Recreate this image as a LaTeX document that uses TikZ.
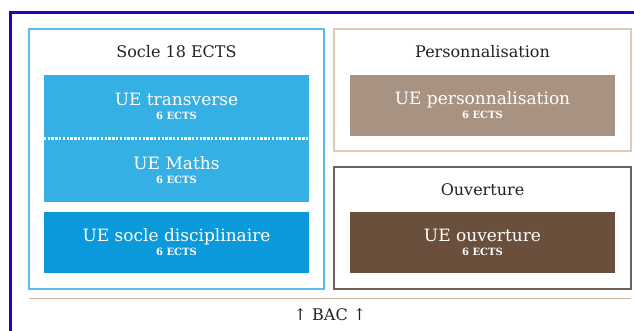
\documentclass[tikz,border=0pt]{standalone}
\usepackage{fontspec}
\setmainfont{DejaVu Serif}
\usetikzlibrary{positioning}

\definecolor{cadre}{HTML}{2400CC}
\definecolor{bleuclair}{HTML}{35B0E5}
\definecolor{bleufonce}{HTML}{0A9ADB}
\definecolor{bordsocle}{HTML}{5BBDEB}
\definecolor{bordperso}{HTML}{DCCBB9}
\definecolor{blocperso}{HTML}{A89383}
\definecolor{bordouv}{HTML}{6E6259}
\definecolor{blocouv}{HTML}{6A4F3C}
\definecolor{regle}{HTML}{C9B3A3}
\definecolor{texte}{HTML}{222222}

\newcommand{\ects}{{\bfseries\fontsize{10}{11}\selectfont 6 ECTS}}

\begin{document}
\begin{tikzpicture}[x=1pt,y=1pt,
    frame/.style={draw,line width=1.2pt,minimum width=#1,inner sep=0pt},
    ue node/.style={rectangle,text=white,align=center,minimum width=265pt,inner sep=0pt,font=\fontsize{17}{19}\selectfont},
    titre/.style={text=texte,font=\fontsize{16}{18}\selectfont}]
  \useasboundingbox (0,0) rectangle (634,331);
  \fill[white] (0,0) rectangle (634,331);
  \draw[cadre,line width=3pt] (10.5,-2) -- (10.5,318.5) -- (636,318.5);

  % cadres
  \node[frame=295pt,bordsocle,minimum height=260pt] (socle) at (176.5,172) {};
  \node[frame=297pt,bordperso,minimum height=122pt] (perso) at (482.5,241) {};
  \node[frame=297pt,bordouv,minimum height=122pt] (ouv) at (482.5,103) {};

  % titres
  \node[titre] (t1) at (176.5,279) {Socle 18 ECTS};
  \node[titre] (t2) at (482.5,279) {Personnalisation};
  \node[titre] (t3) at (482.5,141) {Ouverture};

  % UE
  \node[ue node,fill=bleuclair,minimum height=63pt] (transv) at (176.5,224.5)
    {UE transverse\\[-5pt]\ects};
  \node[ue node,fill=bleuclair,minimum height=64pt,below=0pt of transv] (maths)
    {UE Maths\\[-5pt]\ects};
  \node[ue node,fill=bleufonce,minimum height=61pt] (disc) at (176.5,88.5)
    {UE socle disciplinaire\\[-5pt]\ects};
  \node[ue node,fill=blocperso,minimum height=61pt] (uperso) at (482.5,225.5)
    {UE personnalisation\\[-5pt]\ects};
  \node[ue node,fill=blocouv,minimum height=61pt] (uouv) at (482.5,88.5)
    {UE ouverture\\[-5pt]\ects};
  \draw[white,line width=3pt,dash pattern=on 2.4pt off 1.4pt] (transv.south west) -- (transv.south east);

  % bac
  \coordinate (rg) at (29,32);
  \coordinate (rd) at (631,32);
  \draw[regle,line width=1pt] (rg) -- (rd);
  \node[titre] (bac) at (330,16) {↑ BAC ↑};
\end{tikzpicture}
\end{document}
